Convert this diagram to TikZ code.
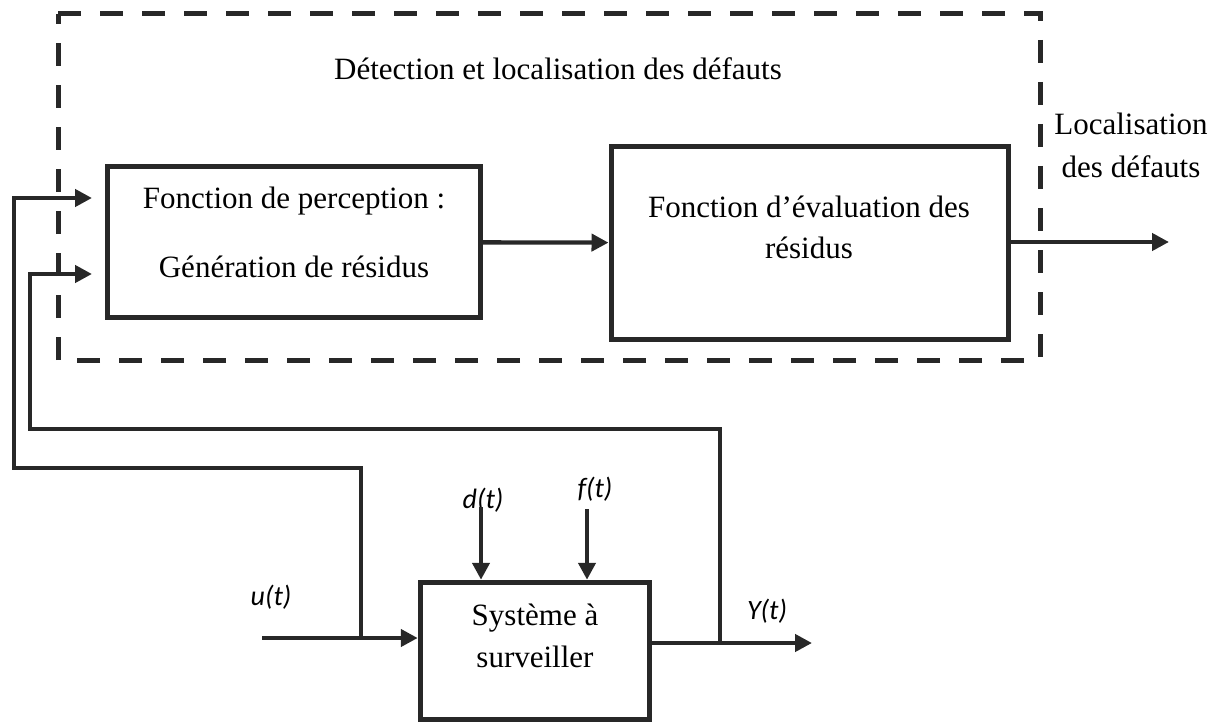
\documentclass[tikz,border=0pt]{standalone}
\usepackage{fontspec}
\setmainfont{Liberation Serif}
\newfontfamily\lblfont{Carlito}
\usetikzlibrary{arrows.meta}
\definecolor{lc}{RGB}{40,40,40}
\begin{document}
\begin{tikzpicture}[x=1pt,y=-1pt,
  blockbox/.style={draw=lc,line width=5pt,rectangle,inner sep=0pt},
  dashbox/.style={draw=lc,line width=5pt,dash pattern=on 23pt off 19pt},
  conn/.style={draw=lc,line width=4.3pt},
  arr/.style={-{Triangle[length=17pt,width=17pt]}},
  txt/.style={inner sep=0pt,font=\fontsize{31}{37}\selectfont,text=black},
  lbl/.style={inner sep=0pt,font=\lblfont\itshape\fontsize{28}{34}\selectfont,text=black}]
\useasboundingbox (0,0) rectangle (1222,722);
% dashed frame
\draw[dashbox] (58,14) -- (1040,14) -- (1040,360) -- (58,360) -- cycle;
\node[txt,anchor=base west] (title) at (334,80) {Détection et localisation des défauts};
% blocks
\node[blockbox,minimum width=373pt,minimum height=151.5pt] (b1) at (294,242) {};
\node[blockbox,minimum width=397pt,minimum height=192.5pt] (b2) at (809.5,243) {};
\node[blockbox,minimum width=229.5pt,minimum height=137.5pt] (b3) at (535,651) {};
\node[txt,anchor=base] (t1a) at (294,208) {Fonction de perception :};
\node[txt,anchor=base] (t1b) at (294,277) {Génération de résidus};
\node[txt,anchor=base] (t2a) at (809,217) {Fonction d’évaluation des};
\node[txt,anchor=base] (t2b) at (809,258) {résidus};
\node[txt,anchor=base] (t3a) at (535,625) {Système à};
\node[txt,anchor=base] (t3b) at (535,667) {surveiller};
\node[txt,anchor=base] (loc1) at (1131,135) {Localisation};
\node[txt,anchor=base] (loc2) at (1131,178) {des défauts};
% labels
\node[lbl] (lu) at (271,597) {u(t)};
\node[lbl] (ld) at (483,500) {d(t)};
\node[lbl] (lf) at (595,489) {f(t)};
\node[lbl] (ly) at (767,611) {Y(t)};
% coordinates
\coordinate (out) at (1169,242);
\coordinate (uin) at (262,638);
\coordinate (j1) at (361,638);
\coordinate (din) at (481,507);
\coordinate (fin) at (587,509);
\coordinate (yout) at (812,643);
\coordinate (j2) at (720,643);
% connectors
\draw[conn,arr] (b1) -- (b2);
\draw[conn,arr] (b2.east |- 0,242) -- (out);
\draw[conn,arr] (uin) -- (b3.west |- 0,638);
\draw[conn,arr] (din) -- (din |- b3.north);
\draw[conn,arr] (fin) -- (fin |- b3.north);
\draw[conn,arr] (b3.east |- 0,643) -- (yout);
\draw[conn,arr,shorten >=13pt] (j1) -- (361,468) -- (14,468) -- (14,198) -- (b1.west |- 0,198);
\draw[conn,arr,shorten >=13pt] (j2) -- (720,429) -- (30,429) -- (30,274) -- (b1.west |- 0,274);
\end{tikzpicture}
\end{document}
